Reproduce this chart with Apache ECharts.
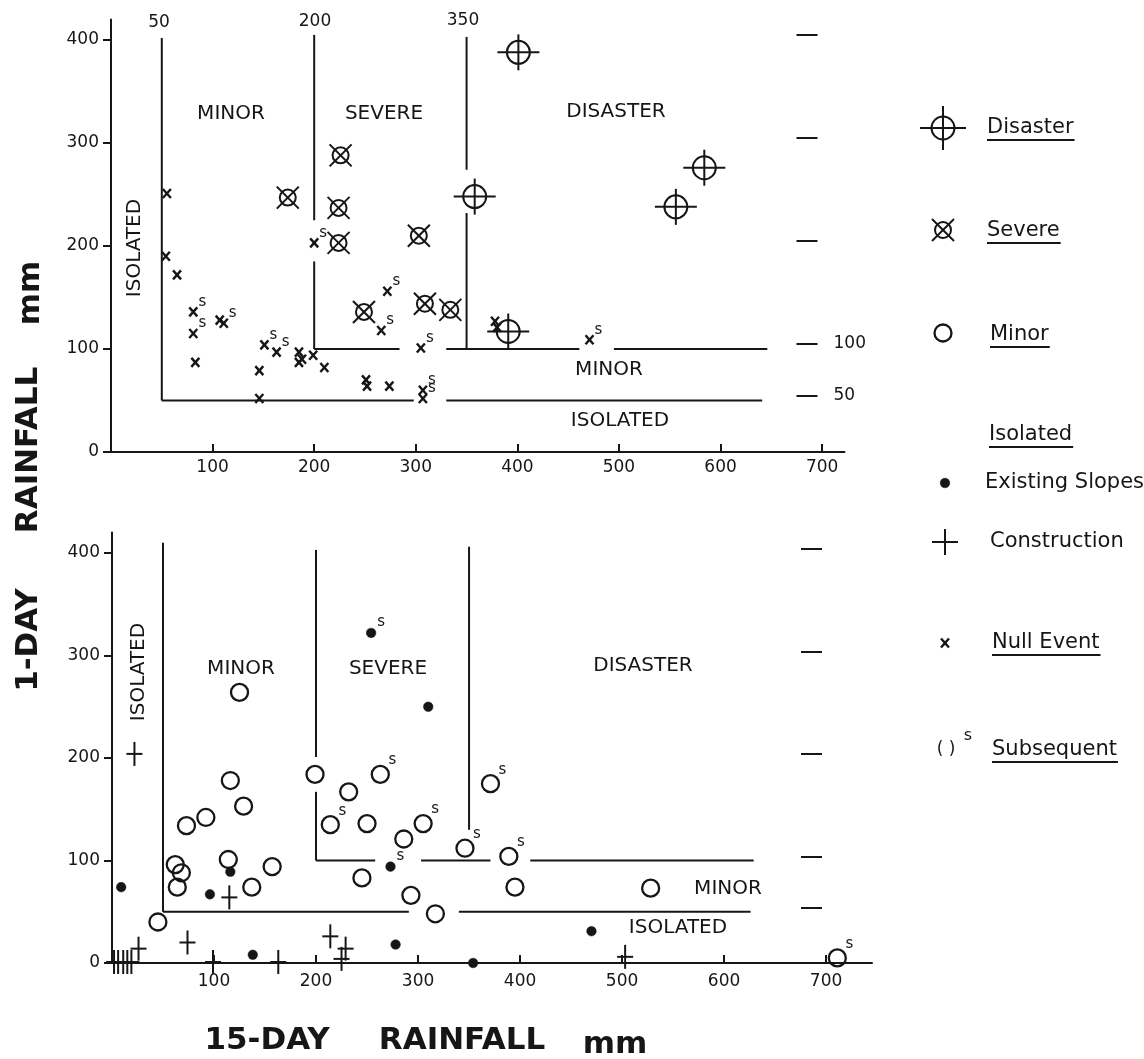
<!DOCTYPE html>
<html>
<head>
<meta charset="utf-8">
<script src="https://cdn.jsdelivr.net/npm/echarts@6/dist/echarts.min.js"></script>
<style>html,body{margin:0;padding:0;background:#fff}#c{width:1144px;height:1059px}</style>
</head>
<body>
<div id="c"></div>
<script>
// ---------------- DATA ----------------
// Axis tick values / labels
const xTickLabels = [100, 200, 300, 400, 500, 600, 700];
const yTickLabels = [0, 100, 200, 300, 400];
const rightTicks = [50, 100, 200, 300, 400];
const rightTickLabels = [50, 100];
// Threshold labels printed above the top panel (15-day rainfall, mm)
const xThresholdLabels = ['50', '200', '350'];

// Threshold boundary segments [x1, y1, x2, y2] (15-day mm, 1-day mm), with the gaps of the original
const topBoundarySegments = [
  [50, 402, 50, 50],
  [50, 50, 298, 50], [330, 50, 641, 50],
  [200, 405, 200, 225], [200, 185, 200, 100],
  [200, 100, 284, 100], [330, 100, 461, 100], [495, 100, 646, 100],
  [350, 403, 350, 274], [350, 232, 350, 100]
];
const bottomBoundarySegments = [
  [50, 410, 50, 50],
  [50, 50, 291, 50], [340, 50, 626, 50],
  [200, 403, 200, 201], [200, 167, 200, 100],
  [200, 100, 258, 100], [303, 100, 371, 100], [410, 100, 629, 100],
  [350, 406, 350, 130]
];

// Top panel: landslide events [15-day, 1-day]
const topDisaster = [[401, 388], [358, 248], [556, 238], [584, 276], [391, 117]];
const topSevere = [[226, 288], [174, 247], [224, 237], [224, 203], [303, 210], [249, 136], [309, 144], [334, 138]];
// Null events [15-day, 1-day, subsequent(1/0)]
const topNull = [
  [55, 251, 0], [54, 190, 0], [65, 172, 0], [81, 136, 1], [81, 115, 1], [83, 87, 0],
  [107, 128, 0], [111, 125, 1], [146, 79, 0], [146, 52, 0], [151, 104, 1], [163, 97, 1],
  [185, 97, 0], [185, 87, 0], [188, 90, 0], [199, 94, 0], [210, 82, 0], [200, 203, 1],
  [251, 70, 0], [252, 64, 0], [274, 64, 0], [272, 156, 1], [266, 118, 1], [305, 101, 1],
  [307, 60, 1], [307, 52, 1], [378, 127, 0], [380, 121, 0], [471, 109, 1]
];

// Bottom panel: minor events [15-day, 1-day, subsequent]
const bottomMinor = [
  [125, 264, 0], [116, 178, 0], [129, 153, 0], [92, 142, 0], [73, 134, 0], [62, 96, 0],
  [68, 88, 0], [64, 74, 0], [114, 101, 0], [137, 74, 0], [157, 94, 0], [45, 40, 0],
  [199, 184, 0], [232, 167, 0], [214, 135, 1], [250, 136, 0], [263, 184, 1], [245, 83, 0],
  [286, 121, 0], [305, 136, 1], [293, 66, 0], [317, 48, 0], [346, 112, 1], [371, 175, 1],
  [389, 104, 1], [395, 74, 0], [528, 73, 0], [711, 5, 1]
];
// Isolated: existing slopes [15-day, 1-day, subsequent]
const bottomExisting = [
  [254, 322, 1], [310, 250, 0], [273, 94, 1], [9, 74, 0], [96, 67, 0], [116, 89, 0],
  [138, 8, 0], [278, 18, 0], [354, 0, 0], [470, 31, 0]
];
// Isolated: construction [15-day, 1-day]
const bottomConstruction = [
  [22, 204], [115, 64], [26, 14], [74, 20], [99, 1], [163, 1], [214, 26], [229, 14], [225, 4],
  [2, 1], [6, 1], [11, 1], [15, 1], [19, 1], [503, 6]
];

// ---------------- RENDERING ----------------
const INK = '#161616';
const FONT = '"DejaVu Sans", sans-serif';

function glyph(kind, cx, cy, big) {
  const st = (extra) => Object.assign({ stroke: INK, lineWidth: 2, fill: 'none' }, extra || {});
  const L = (x1, y1, x2, y2, w) => ({ type: 'line', shape: { x1, y1, x2, y2 }, style: st(w ? { lineWidth: w } : null) });
  switch (kind) {
    case 'disaster': {
      const ah = big ? 23 : 21, av = big ? 22 : 18;
      return [{ type: 'circle', shape: { cx, cy, r: 11.5 }, style: st() }, L(cx - ah, cy, cx + ah, cy), L(cx, cy - av, cx, cy + av)];
    }
    case 'severe':
      return [{ type: 'circle', shape: { cx, cy, r: 8 }, style: st() },
        L(cx - 11, cy - 11, cx + 11, cy + 11), L(cx - 11, cy + 11, cx + 11, cy - 11)];
    case 'minor':
      return [{ type: 'circle', shape: { cx, cy, r: 8.5 }, style: st({ lineWidth: 2.3 }) }];
    case 'existing':
      return [{ type: 'circle', shape: { cx, cy, r: 4.8 }, style: { fill: INK, stroke: INK, lineWidth: 0.5 } }];
    case 'construction': {
      const h = big ? 13 : 8, v = big ? 13 : 12;
      return [L(cx - h, cy, cx + h, cy), L(cx, cy - v, cx, cy + v)];
    }
    case 'null':
      return [L(cx - 4, cy - 4.5, cx + 4, cy + 4.5, 2.4), L(cx - 4, cy + 4.5, cx + 4, cy - 4.5, 2.4)];
  }
  return [];
}

function pointSeries(name, kind, data, xi, yi, sdx, sdy) {
  return {
    type: 'custom', name, xAxisIndex: xi, yAxisIndex: yi, data, silent: true,
    encode: { x: 0, y: 1 },
    renderItem: (params, api) => {
      const p = api.coord([api.value(0), api.value(1)]);
      const kids = glyph(kind, p[0], p[1], false);
      if (api.value(2) === 1) {
        kids.push({ type: 'text', x: p[0] + sdx, y: p[1] - sdy,
          style: { text: 's', font: '15px ' + FONT, fill: INK, align: 'center', verticalAlign: 'middle' } });
      }
      return { type: 'group', children: kids };
    }
  };
}

function segSeries(data, xi, yi) {
  return {
    type: 'custom', xAxisIndex: xi, yAxisIndex: yi, data, silent: true,
    encode: { x: [0, 2], y: [1, 3] },
    renderItem: (params, api) => {
      const a = api.coord([api.value(0), api.value(1)]);
      const b = api.coord([api.value(2), api.value(3)]);
      return { type: 'line', shape: { x1: a[0], y1: a[1], x2: b[0], y2: b[1] }, style: { stroke: INK, lineWidth: 2 } };
    }
  };
}

const lab = { color: INK, fontSize: 17, fontFamily: 'DejaVu Sans' };
const axLine = { show: true, onZero: false, lineStyle: { color: INK, width: 2 } };
const tickStyle = { color: INK, width: 2 };

function xAxisDef(gi, max, margin) {
  return {
    gridIndex: gi, type: 'value', min: 0, max: max,
    axisLine: axLine,
    axisTick: { show: true, inside: true, length: 8, lineStyle: tickStyle, customValues: xTickLabels },
    axisLabel: Object.assign({ customValues: xTickLabels, margin: margin }, lab),
    splitLine: { show: false }
  };
}
function yAxisLeft(gi) {
  return {
    gridIndex: gi, type: 'value', min: 0, max: 420, position: 'left',
    axisLine: axLine,
    axisTick: { show: true, length: 8, lineStyle: tickStyle, customValues: yTickLabels },
    axisLabel: Object.assign({ customValues: yTickLabels, margin: 12 }, lab),
    splitLine: { show: false }
  };
}
function yAxisRight(gi, min, max, offset, showLabels) {
  return {
    gridIndex: gi, type: 'value', min: min, max: max, position: 'right', offset: offset,
    axisLine: { show: false, onZero: false },
    axisTick: { show: true, inside: true, length: 21, lineStyle: tickStyle, customValues: rightTicks },
    axisLabel: Object.assign({ show: showLabels, customValues: rightTickLabels, margin: 16 }, lab),
    splitLine: { show: false }
  };
}

// text measurement for underlines
const mctx = document.createElement('canvas').getContext('2d');
function tw(text, font) { mctx.font = font; return mctx.measureText(text).width; }

function T(text, x, y, size, opt) {
  opt = opt || {};
  return {
    type: 'text', x: x, y: y, rotation: opt.rot || 0, silent: true,
    style: { text: text, font: (opt.weight || 'normal') + ' ' + size + 'px ' + FONT, fill: INK,
      align: opt.align || 'center', verticalAlign: opt.va || 'middle' }
  };
}

const graphics = [];
// threshold numbers above the top panel
[[159, 23], [315, 22], [463, 21]].forEach((p, i) => graphics.push(T(xThresholdLabels[i], p[0], p[1], 17)));
// region labels top
graphics.push(T('MINOR', 231, 114, 20), T('SEVERE', 384, 114, 20), T('DISASTER', 616, 112, 20),
  T('ISOLATED', 135, 248, 20, { rot: Math.PI / 2 }), T('MINOR', 609, 370, 20), T('ISOLATED', 620, 421, 20));
// region labels bottom
graphics.push(T('MINOR', 241, 669, 20), T('SEVERE', 388, 669, 20), T('DISASTER', 643, 666, 20),
  T('ISOLATED', 139, 672, 20, { rot: Math.PI / 2 }), T('MINOR', 728, 889, 20), T('ISOLATED', 678, 928, 20));
// axis titles
const TB = { weight: 'bold' };
graphics.push(T('15-DAY', 267, 1041, 31, TB), T('RAINFALL', 462, 1041, 31, TB), T('mm', 615, 1045, 31, TB));
graphics.push(T('1-DAY', 28.5, 640, 31, { rot: Math.PI / 2, weight: 'bold' }),
  T('RAINFALL', 28.5, 450, 31, { rot: Math.PI / 2, weight: 'bold' }),
  T('mm', 31, 293, 31, { rot: Math.PI / 2, weight: 'bold' }));

// legend
const LF = '21px ' + FONT;
function legendText(text, x, y, underline) {
  graphics.push(T(text, x, y, 21, { align: 'left' }));
  if (underline) {
    const w = tw(text, LF);
    graphics.push({ type: 'line', silent: true, shape: { x1: x, y1: y + 12, x2: x + w + 1, y2: y + 12 }, style: { stroke: INK, lineWidth: 2 } });
  }
}
function legendGlyph(kind, cx, cy) {
  graphics.push({ type: 'group', silent: true, children: glyph(kind, cx, cy, true) });
}
legendGlyph('disaster', 943, 128); legendText('Disaster', 987, 128, true);
legendGlyph('severe', 943, 230); legendText('Severe', 987, 231, true);
legendGlyph('minor', 943, 333); legendText('Minor', 990, 335, true);
legendText('Isolated', 989, 435, true);
legendGlyph('existing', 945, 483); legendText('Existing Slopes', 985, 483, false);
legendGlyph('construction', 945, 542); legendText('Construction', 990, 542, false);
legendGlyph('null', 945, 643); legendText('Null Event', 992, 643, true);
graphics.push(T('( )', 946, 750, 17), T('s', 968, 736, 16));
legendText('Subsequent', 992, 750, true);

const chart = echarts.init(document.getElementById('c'), null, { renderer: 'canvas' });
chart.setOption({
  backgroundColor: '#ffffff',
  animation: false,
  grid: [
    { left: 111, top: 19.4, width: 733.5, height: 432.6 },
    { left: 112, top: 532.5, width: 760, height: 430.5 }
  ],
  xAxis: [xAxisDef(0, 722, 7), xAxisDef(1, 745, 10)],
  yAxis: [
    yAxisLeft(0),
    yAxisRight(0, -5, 415, -27, true),
    yAxisLeft(1),
    yAxisRight(1, -4, 416, -50, false)
  ],
  series: [
    segSeries(topBoundarySegments, 0, 0),
    pointSeries('Disaster', 'disaster', topDisaster, 0, 0, 0, 0),
    pointSeries('Severe', 'severe', topSevere, 0, 0, 0, 0),
    pointSeries('Null Event', 'null', topNull, 0, 0, 9, 10),
    segSeries(bottomBoundarySegments, 1, 2),
    pointSeries('Minor', 'minor', bottomMinor, 1, 2, 12, 14),
    pointSeries('Existing Slopes', 'existing', bottomExisting, 1, 2, 10, 11),
    pointSeries('Construction', 'construction', bottomConstruction, 1, 2, 0, 0)
  ],
  graphic: { elements: graphics }
});
</script>
</body>
</html>
